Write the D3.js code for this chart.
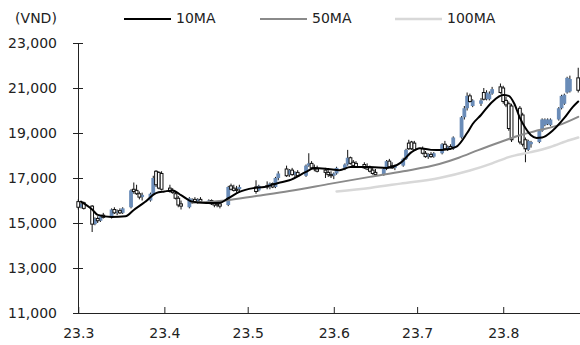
<!DOCTYPE html>
<html>
<head>
<meta charset="utf-8">
<script src="https://cdn.jsdelivr.net/npm/d3@7/dist/d3.min.js"></script>
<style>
  html, body { margin: 0; padding: 0; background: #fff; }
  svg { display: block; }
  text { font-family: "DejaVu Sans", sans-serif; fill: #222; }
</style>
</head>
<body>
<svg id="chart" width="580" height="345"></svg>
<script>
// Trading days, Mar–Aug 2023
const dates = [
  "2023-03-01","2023-03-02","2023-03-03","2023-03-06","2023-03-07","2023-03-08","2023-03-09","2023-03-10",
  "2023-03-13","2023-03-14","2023-03-15","2023-03-16","2023-03-17","2023-03-20","2023-03-21","2023-03-22",
  "2023-03-23","2023-03-24","2023-03-27","2023-03-28","2023-03-29","2023-03-30","2023-03-31",
  "2023-04-03","2023-04-04","2023-04-05","2023-04-06","2023-04-07","2023-04-10","2023-04-11","2023-04-12",
  "2023-04-13","2023-04-14","2023-04-17","2023-04-18","2023-04-19","2023-04-20","2023-04-21","2023-04-24",
  "2023-04-25","2023-04-26","2023-04-27","2023-04-28",
  "2023-05-04","2023-05-05","2023-05-08","2023-05-09","2023-05-10","2023-05-11","2023-05-12","2023-05-15",
  "2023-05-16","2023-05-17","2023-05-18","2023-05-19","2023-05-22","2023-05-23","2023-05-24","2023-05-25",
  "2023-05-26","2023-05-29","2023-05-30","2023-05-31",
  "2023-06-01","2023-06-02","2023-06-05","2023-06-06","2023-06-07","2023-06-08","2023-06-09","2023-06-12",
  "2023-06-13","2023-06-14","2023-06-15","2023-06-16","2023-06-19","2023-06-20","2023-06-21","2023-06-22",
  "2023-06-23","2023-06-26","2023-06-27","2023-06-28","2023-06-29","2023-06-30",
  "2023-07-03","2023-07-04","2023-07-05","2023-07-06","2023-07-07","2023-07-10","2023-07-11","2023-07-12",
  "2023-07-13","2023-07-14","2023-07-17","2023-07-18","2023-07-19","2023-07-20","2023-07-21","2023-07-24",
  "2023-07-25","2023-07-26","2023-07-27","2023-07-28","2023-07-31",
  "2023-08-01","2023-08-02","2023-08-03","2023-08-04","2023-08-07","2023-08-08","2023-08-09","2023-08-10",
  "2023-08-11","2023-08-14","2023-08-15","2023-08-16","2023-08-17","2023-08-18","2023-08-21","2023-08-22",
  "2023-08-23","2023-08-24","2023-08-25","2023-08-28"
];
const opens = [
  15950,15700,15900,15750,14950,15200,15100,15350,
  15250,15600,15450,15550,15450,15700,16500,16450,
  16300,16150,16000,16300,17300,17250,17200,
  16550,16450,16300,16100,15850,15700,16000,16050,
  15950,16050,15950,16000,15900,15850,15850,15800,
  16650,16550,16500,16500,
  16600,16450,16650,16600,16750,16600,17000,17400,
  17150,17350,17150,17250,17100,17550,17650,17450,
  17400,17350,17250,17150,
  17100,17200,17450,17600,17900,17700,17650,17600,
  17500,17450,17350,17250,17150,17400,17750,17550,
  17450,17550,17850,18550,18600,18550,
  18300,18100,17950,18050,17950,18100,18500,18300,
  18400,18300,18800,19700,20100,20650,20200,20300,
  20800,20500,20500,20750,21050,
  21000,20450,20300,20200,20100,19800,18700,18250,
  18500,18600,19100,19350,19400,19350,19600,20100,
  20300,20800,20850,21450
];
const highs = [
  16050,15900,15950,15800,15250,15300,15350,15450,
  15650,15700,15600,15650,15700,16500,16800,16700,
  16400,16350,16350,17100,17350,17300,17300,
  16700,16550,16400,16200,16000,16150,16100,16150,
  16100,16150,16050,16050,15950,15950,15900,16650,
  16750,16700,16650,16700,
  16900,16700,16850,16800,16800,17050,17300,17550,
  17400,17450,17300,17350,17600,18100,17750,17600,
  17550,17450,17350,17300,
  17250,17500,17650,18250,17950,17800,17750,17700,
  17650,17550,17450,17400,17450,17800,17850,17700,
  17600,17900,18300,18700,18650,18650,
  18400,18200,18100,18150,18150,18550,18650,18450,
  18500,18850,19750,20200,20800,20750,20500,20550,
  21000,20900,20850,21050,21200,
  21100,20600,20400,20300,20200,19900,18800,18700,
  18650,19150,19650,19650,19650,19650,20150,20700,
  20750,21500,21550,21900
];
const lows = [
  15600,15650,15600,14600,14900,15000,15050,15200,
  15200,15400,15350,15400,15400,15650,16300,16250,
  16050,16000,15950,16250,16600,16500,16450,
  16350,16300,16050,15700,15600,15650,15850,15900,
  15850,15900,15850,15800,15700,15700,15650,15750,
  16450,16400,16350,16350,
  16300,16400,16500,16500,16550,16550,16900,17050,
  17050,17100,17000,17050,17050,17500,17400,17300,
  17250,17000,17050,17000,
  16950,17150,17350,17550,17600,17500,17450,17400,
  17350,17250,17150,17100,17100,17350,17450,17400,
  17350,17500,17800,18250,18250,18200,
  18050,17900,17850,17900,17900,18050,18250,18200,
  18250,18250,18750,19600,20000,20350,20150,20200,
  20450,20450,20450,20700,20750,
  20300,20150,19100,18600,18500,18400,17700,18200,
  18350,18550,19050,19300,19350,19300,19550,20050,
  20250,20750,20800,20800
];
const closes = [
  15700,15850,15650,14950,15200,15100,15300,15250,
  15600,15450,15500,15450,15650,16450,16400,16300,
  16150,16250,16300,17000,16700,16550,16500,
  16400,16350,16100,15800,15750,16100,16050,15950,
  16050,15950,16000,15850,15800,15800,15750,16600,
  16500,16450,16450,16600,
  16400,16650,16600,16750,16600,17000,17200,17100,
  17350,17150,17250,17100,17550,17650,17450,17400,
  17300,17250,17150,17100,
  17200,17450,17600,17900,17650,17550,17500,17450,
  17400,17300,17200,17150,17400,17750,17500,17450,
  17550,17850,18250,18300,18300,18250,
  18100,17950,18050,17950,18100,18500,18300,18400,
  18300,18800,19700,20100,20650,20400,20450,20450,
  20500,20800,20750,20950,20800,
  20400,20250,19200,18700,18600,18500,18300,18650,
  18600,19100,19600,19600,19600,19600,20100,20650,
  20700,21450,21400,20900
];

// Moving averages
const ma10Dates = ["2023-03-02","2023-03-06","2023-03-08","2023-03-13","2023-03-18","2023-03-21","2023-03-25",
  "2023-03-29","2023-04-01","2023-04-04","2023-04-07","2023-04-11","2023-04-16","2023-04-21","2023-04-24",
  "2023-04-28","2023-05-03","2023-05-07","2023-05-12","2023-05-16","2023-05-22","2023-05-25","2023-05-30",
  "2023-06-03","2023-06-07","2023-06-14","2023-06-20","2023-06-25","2023-06-29","2023-07-02","2023-07-06",
  "2023-07-10","2023-07-15","2023-07-19","2023-07-21","2023-07-24","2023-07-28","2023-08-01","2023-08-03",
  "2023-08-05","2023-08-07","2023-08-09","2023-08-11","2023-08-13","2023-08-15","2023-08-19","2023-08-23",
  "2023-08-26","2023-08-28"];
const ma10 = [15950,15600,15360,15270,15300,15580,15930,
  16330,16400,16450,16240,15950,15890,15900,16100,
  16380,16550,16600,16780,16900,17270,17440,17400,
  17350,17490,17490,17450,17670,18150,18320,18250,
  18240,18380,19000,19400,19800,20380,20690,20650,
  20300,19670,19220,18900,18780,18800,19130,19670,
  20150,20400];

const ma50Dates = ["2023-04-11","2023-04-23","2023-05-04","2023-05-16","2023-05-31","2023-06-14","2023-06-26",
  "2023-07-09","2023-07-16","2023-07-23","2023-07-31","2023-08-07","2023-08-14","2023-08-21","2023-08-28"];
const ma50 = [15900,16000,16200,16420,16750,17050,17300,17620,17900,18240,18600,18900,19130,19350,19720];

const ma100Dates = ["2023-06-02","2023-06-14","2023-06-25","2023-07-09","2023-07-20","2023-07-28","2023-08-03",
  "2023-08-11","2023-08-18","2023-08-25","2023-08-28"];
const ma100 = [16400,16560,16750,17000,17330,17650,17930,18150,18380,18690,18800];

const yTicks = [11000,13000,15000,17000,19000,21000,23000];
const xTicks = ["2023-03-01","2023-04-01","2023-05-01","2023-06-01","2023-07-01","2023-08-01"];
const legendLabels = ["10MA","50MA","100MA"];
const unitLabel = "(VND)";

// ---- drawing ----
const parse = d3.timeParse("%Y-%m-%d");
const svg = d3.select("#chart");

const x = d3.scaleTime()
  .domain([parse("2023-02-27"), parse("2023-08-29")])
  .range([72.7, 581]);
const y = d3.scaleLinear().domain([11000, 23000]).range([313, 43]);

const candles = dates.map((d, i) => ({
  date: parse(d), o: opens[i], h: highs[i], l: lows[i], c: closes[i]
}));

// y axis (ticks cross the axis line)
const gy = svg.append("g").attr("transform", "translate(78,0)")
  .call(d3.axisLeft(y).tickValues(yTicks).tickFormat(d3.format(","))
    .tickSizeInner(5).tickSizeOuter(0).tickPadding(16));
gy.selectAll(".tick line").attr("x1", 5);
gy.selectAll("text").attr("font-size", 14).attr("font-family", "DejaVu Sans").attr("fill", "#2a2a2a");
gy.selectAll("path, line").attr("stroke", "#222");

// x axis (ticks point up)
const gx = svg.append("g").attr("transform", "translate(0,313)")
  .call(d3.axisBottom(x).tickValues(xTicks.map(parse)).tickFormat(d3.timeFormat("%y.%-m"))
    .tickSizeInner(-6).tickSizeOuter(0).tickPadding(15));
gx.selectAll("text").attr("font-size", 14).attr("font-family", "DejaVu Sans").attr("fill", "#2a2a2a");
gx.selectAll("path, line").attr("stroke", "#222");

// candles
const plot = svg.append("g");
plot.selectAll("line.wick").data(candles).join("line")
  .attr("class", "wick")
  .attr("x1", d => x(d.date)).attr("x2", d => x(d.date))
  .attr("y1", d => y(d.h)).attr("y2", d => y(d.l))
  .attr("stroke", "#111").attr("stroke-width", 1);

const upW = 3.8, dnW = 2.8;
plot.selectAll("rect.up").data(candles.filter(d => d.c >= d.o)).join("rect")
  .attr("class", "up")
  .attr("x", d => x(d.date) - upW / 2)
  .attr("width", upW)
  .attr("y", d => y(Math.max(d.o, d.c)))
  .attr("height", d => Math.max(1, y(Math.min(d.o, d.c)) - y(Math.max(d.o, d.c))))
  .attr("fill", "#6a8cb8");
plot.selectAll("rect.down").data(candles.filter(d => d.c < d.o)).join("rect")
  .attr("class", "down")
  .attr("x", d => x(d.date) - dnW / 2)
  .attr("width", dnW)
  .attr("y", d => y(d.o))
  .attr("height", d => Math.max(1, y(d.c) - y(d.o)))
  .attr("fill", "#fff").attr("stroke", "#111").attr("stroke-width", 1);

// moving-average lines
const maSeries = [
  { dates: ma100Dates, vals: ma100, color: "#d8d8d8", w: 2.5 },
  { dates: ma50Dates, vals: ma50, color: "#8a8a8a", w: 2 },
  { dates: ma10Dates, vals: ma10, color: "#000", w: 2 }
];
const line = d3.line().x(p => x(p[0])).y(p => y(p[1])).curve(d3.curveMonotoneX);
maSeries.forEach(s => {
  svg.append("path")
    .datum(s.dates.map((d, i) => [parse(d), s.vals[i]]))
    .attr("d", line)
    .attr("fill", "none").attr("stroke", s.color).attr("stroke-width", s.w)
    .attr("stroke-linejoin", "round").attr("stroke-linecap", "round");
});

// unit label and legend
svg.append("text").attr("x", 36).attr("y", 23).attr("text-anchor", "middle")
  .attr("font-size", 14).attr("fill", "#2a2a2a").text(unitLabel);

const legendColors = ["#000", "#8a8a8a", "#d8d8d8"];
const legendX = [124, 260, 395];
const lg = svg.append("g");
legendLabels.forEach((lab, i) => {
  lg.append("line").attr("x1", legendX[i]).attr("x2", legendX[i] + 47)
    .attr("y1", 19).attr("y2", 19)
    .attr("stroke", legendColors[i]).attr("stroke-width", i === 2 ? 2.5 : 2);
  lg.append("text").attr("x", legendX[i] + 52).attr("y", 23)
    .attr("font-size", 14).attr("fill", "#2a2a2a").text(lab);
});
</script>
</body>
</html>
